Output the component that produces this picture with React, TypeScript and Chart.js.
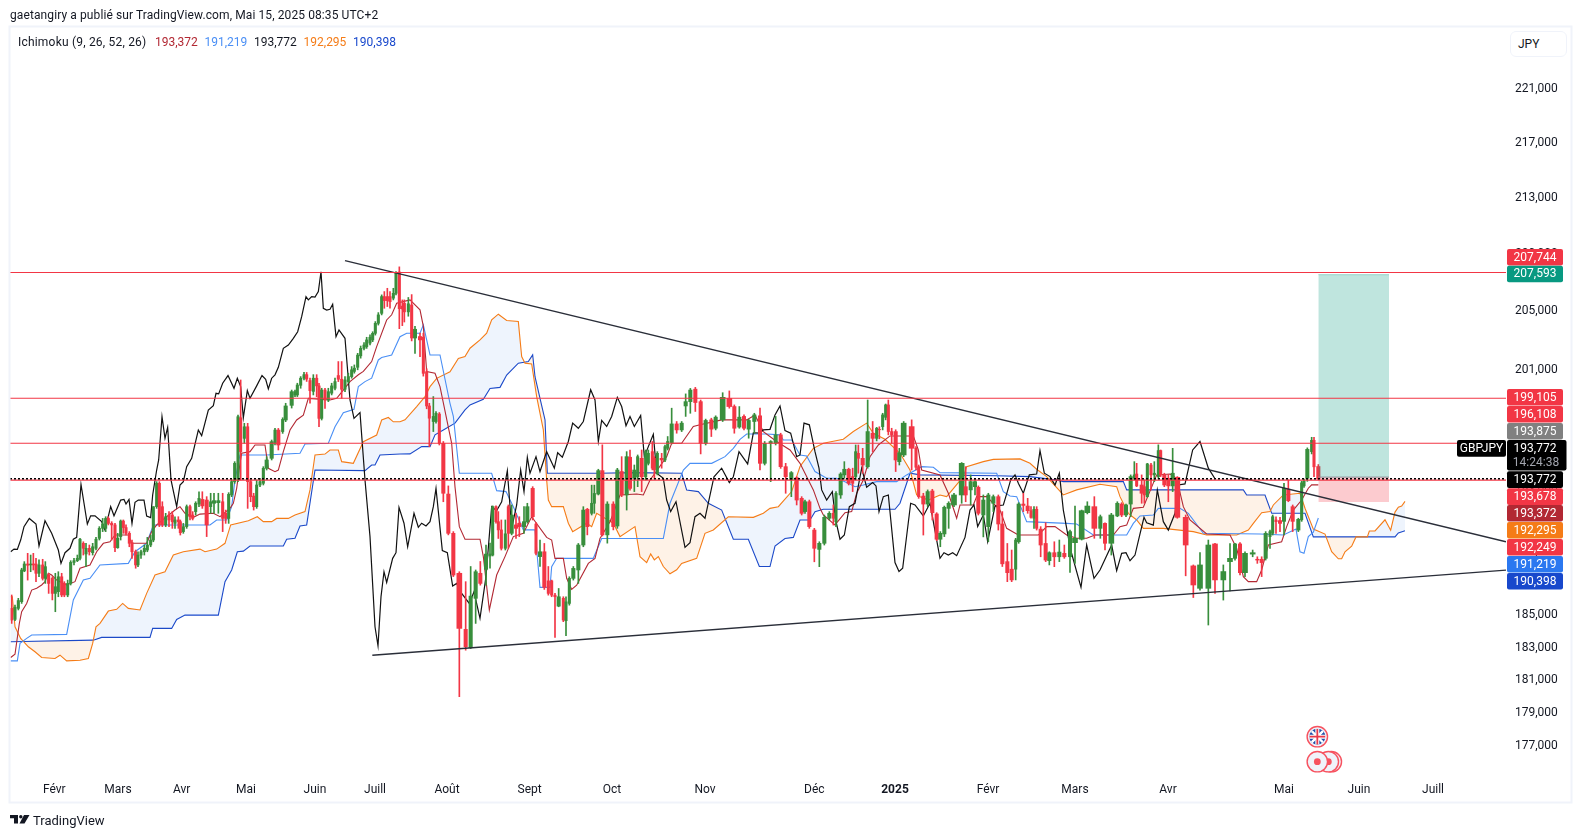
import React, { useEffect, useRef } from "react";
import { Chart, registerables } from "chart.js";

Chart.register(...registerables);

const FONT = "Roboto, 'Noto Sans', sans-serif";

// time positions of the sessions (arbitrary time units along the axis)
const barX = [
35,45,55,65,73,83,92,100,108,117,
128,136,146,157,166,175,185,193,203,212,
222,232,240,250,258,268,278,288,298,308,
317,325,335,345,353,362,370,378,388,396,
407,414,423,433,442,452,460,470,478,487,
497,507,517,525,535,541,550,560,570,578,
587,597,607,620,632,642,655,668,677,686,
695,704,714,722,733,743,752,761,770,780,
790,800,815,825,835,848,857,875,885,892,
902,912,920,930,940,950,957,965,975,985,
995,1005,1015,1025,1035,1045,1055,1063,1073,1082,
1092,1100,1110,1118,1126,1135,1145,1153,1162,1170,
1180,1188,1198,1207,1213,1225,1235,1245,1260,1270,
1280,1288,1300,1308,1318,1330,1345,1360,1378,1397,
1412,1427,1441,1458,1470,1478,1488,1495,1504,1516,
1525,1535,1548,1558,1572,1582,1598,1608,1620,1633,
1645,1655,1665,1676,1690,1698,1708,1720,1735,1750,
1762,1775,1783,1795,1807,1822,1840,1852,1865,1880,
1890,1903,1913,1925,1937,1945,1957,1963,1972,1985,
1995,2003,2015,2030,2045,2057,2071,2086,2102,2117,
2134,2147,2168,2188,2203,2218,2232,2246,2263,2280,
2294,2312,2327,2342,2357,2374,2390,2405,2415,2428,
2443,2458,2473,2488,2500,2508,2522,2533,2546,2558,
2567,2575,2588,2603,2618,2630,2638,2648,2657,2665,
2675,2687,2698,2711,2735,2748,2756,2770,2783,2797,
2810,2821,2833,2846,2862,2885,2897,2912,2925,2935,
2950,2965,2980,2995,3007,3022,3035,3047,3056,3070,
3083,3093,3102,3110,3122,3137,3148,3163,3178,3193,
3210,3225,3245,3262,3283,3301,3315,3334,3352,3365,
3378,3392,3403,3410,3425,3433,3442,3453,3463,3475,
3482,3493,3505,3518,3532,3557,3580,3600,3625,3645,
3670,3690,3705,3720,3735,3758,3772,3785,3797,3810,
3818,3828,3840,3852,3865,3878,3895,3905,3912,3922,
3935,3942,3955,
];

const opens = [
185.47,184.78,185.47,185.89,187.83,188.27,188.21,188.27,188.27,187.68,
188.21,187.36,187.57,187.36,186.41,186.52,187.46,187.04,186.31,187.04,
188.37,188.48,188.63,189.59,188.91,189.27,188.99,189.27,189.91,190.55,
190.55,191.19,190.87,190.77,189.31,190.02,191.02,190.6,190.23,189.63,
189.05,188.21,188.84,189.05,189.16,189.48,189.8,191.95,193.47,191.95,
190.77,191.41,191.41,190.87,191.09,190.98,190.34,190.66,191.95,191.41,
191.63,192.12,192.42,192.38,191.95,192.17,192.21,192.27,191.52,191.19,
192.71,193.58,193.69,197.80,196.43,197.2,193.58,192.64,191.95,193.36,
193.47,194.45,195.11,196.1,196.98,196.88,197.65,198.63,199.33,199.33,
199.98,200.46,200.7,200.3,199.57,200.46,199.94,197.76,199.66,198.99,
199.45,199.78,200.64,200.39,199.71,200.23,200.57,200.92,201.2,201.98,
202.49,202.61,202.85,203.07,203.52,204.21,204.9,206.06,206.06,206.06,
205.95,206.29,207.78,205.4,205.6,205.0,205.48,203.2,203.3,203.25,
200.9,198.59,197.55,197.55,198.05,196.1,192.77,190.23,187.68,184.16,
183.03,186.1,187.68,187.93,188.78,188.84,191.95,190.98,190.45,189.27,
191.95,190.23,190.77,190.88,190.66,190.98,193.14,190.83,188.74,189.05,
187.2,187.2,186.3,185.61,186.1,184.7,185.78,187.36,187.89,189.48,
191.78,191.52,192.17,192.77,194.3,190.13,192.12,190.7,194.24,192.71,
195.18,193.8,193.9,195.11,193.9,194.78,195.55,195.11,194.13,195.11,
195.0,195.77,196.15,197.39,196.99,198.59,198.88,199.72,198.88,196.1,
197.66,197.1,197.66,199.1,198.55,197.18,197.89,197.04,197.55,197.93,
194.78,196.1,196.1,196.66,194.56,193.7,193.84,192.49,191.63,192.27,
190.44,189.2,189.59,191.2,191.52,190.98,192.71,194.02,194.39,193.91,
193.91,195.44,195.11,194.56,196.77,196.43,197.03,197.21,197.83,198.66,
196.88,196.88,194.89,195.33,197.21,195.77,194.56,192.64,192.12,192.97,
191.48,189.85,190.19,191.84,192.06,192.71,193.25,193.04,193.25,193.21,
191.41,190.66,192.17,192.6,190.83,188.42,187.94,187.94,189.69,192.12,
191.99,191.69,191.2,191.78,190.5,189.58,188.48,188.99,188.73,188.95,
188.73,189.63,189.85,191.56,191.95,190.55,190.87,189.59,191.35,192.12,
191.41,192.12,193.8,194.08,193.36,193.25,192.6,194.67,194.02,193.91,
195.62,194.02,193.8,193.3,193.86,191.26,188.15,186.73,186.73,189.55,
187.26,188.42,188.63,189.55,187.72,188.9,188.57,188.57,188.63,190.02,
190.23,191.09,191.05,191.0,193.08,191.95,190.44,191.1,193.3,193.8,
195.55,196.3,194.57,
];

const highs = [
186.31,185.68,186.10,188.0,188.42,188.95,188.84,188.95,188.63,188.53,
188.57,188.42,187.68,187.46,187.68,187.78,187.68,187.15,187.25,188.48,
188.63,188.84,189.91,189.69,189.59,189.48,189.59,189.97,190.66,191.19,
191.3,191.3,190.98,190.87,190.23,191.09,191.09,190.77,190.34,189.8,
189.16,189.05,189.16,189.48,189.97,190.12,191.95,193.58,193.58,192.27,
191.52,191.63,191.63,191.3,191.3,191.09,190.87,192.06,192.06,191.63,
192.27,192.92,192.92,192.6,192.82,192.82,192.82,192.82,191.73,192.86,
193.69,194.89,197.98,200.34,197.43,197.43,193.69,192.82,193.69,193.8,
194.56,195.22,196.32,197.09,197.09,197.8,198.77,199.66,199.66,200.12,
200.57,200.85,200.85,200.46,200.7,200.7,200.12,199.78,199.78,199.78,
200.12,200.46,201.59,201.59,200.57,200.8,201.25,201.36,202.15,202.65,
202.88,203.25,203.41,203.63,204.33,204.95,206.18,206.41,206.64,206.41,
206.64,207.8,208.14,205.83,205.83,206.0,206.2,204.0,203.53,203.53,
201.1,198.77,199.22,198.22,198.15,196.22,193.3,190.34,187.78,187.15,
188.11,187.89,188.43,189.48,189.6,192.0,192.0,191.63,191.09,191.09,
192.06,192.06,191.52,191.3,191.95,192.17,193.25,190.92,189.8,189.58,
188.11,187.25,186.41,186.72,186.2,186.2,187.46,188.11,189.58,191.95,
191.84,193.35,193.35,194.39,196.0,192.27,192.27,194.45,195.22,195.55,
195.66,194.67,195.33,195.66,195.66,195.66,196.22,195.22,195.55,195.44,
195.99,196.55,198.44,197.55,197.55,199.4,199.77,199.84,198.99,197.71,
197.77,197.93,199.48,199.6,198.66,198.55,197.99,197.71,198.1,198.44,
196.22,196.28,197.89,196.77,194.78,194.24,193.9,192.6,192.38,192.38,
190.55,189.69,191.41,191.63,192.06,192.93,194.17,194.89,194.46,194.46,
195.99,195.99,195.77,198.99,197.55,197.16,197.2,198.1,198.72,198.99,
197.1,197.0,195.77,197.55,197.66,195.88,194.67,192.82,193.04,193.08,
191.56,190.34,191.99,192.27,192.82,194.83,194.56,194.02,193.8,193.3,
192.71,192.82,192.71,192.71,191.63,189.58,189.16,189.91,192.21,192.82,
192.49,191.95,191.95,191.95,190.66,190.91,189.05,189.69,189.8,189.48,
190.44,191.99,191.73,192.27,192.6,191.41,190.91,191.52,192.27,192.21,
192.12,194.02,194.89,194.78,194.02,193.69,194.78,194.78,194.89,196.0,
195.66,194.13,194.02,195.77,193.91,191.41,188.21,188.99,189.8,189.59,
188.21,189.58,189.59,189.63,189.05,189.16,188.73,188.73,190.34,190.44,
191.41,191.3,191.26,193.47,193.69,192.06,191.2,193.6,193.75,195.8,
196.5,196.5,194.7,
];

const lows = [
184.53,184.70,185.37,185.78,187.78,187.25,187.78,187.89,187.15,187.46,
187.25,187.04,186.41,186.0,185.26,186.2,186.2,186.2,186.2,186.94,
188.21,188.42,188.53,188.84,188.1,188.84,188.84,189.16,189.8,190.34,
190.34,190.77,189.8,189.05,189.27,189.8,190.23,190.12,189.37,188.63,
188.0,188.1,188.63,188.84,189.05,189.37,189.69,191.84,190.66,190.66,
190.66,190.66,190.55,190.55,190.55,190.12,190.23,190.55,191.09,191.09,
191.41,191.95,191.84,190.02,191.52,191.52,191.52,190.34,190.87,190.87,
192.6,193.47,193.58,193.69,196.1,191.84,192.27,191.73,191.84,193.25,
193.36,194.34,195.0,195.99,195.66,196.76,197.54,198.45,199.22,199.22,
199.78,200.35,200.24,198.77,199.33,199.21,197.2,197.65,198.43,198.88,
199.33,199.66,200.23,199.1,199.55,200.12,200.46,200.8,201.03,201.82,
202.38,202.49,202.72,202.95,203.4,204.09,204.79,205.25,205.37,205.25,
205.83,206.18,203.84,204.05,204.3,204.7,203.0,202.15,201.93,200.6,
198.4,195.88,196.88,197.44,195.99,192.27,190.13,187.47,180.02,182.87,
182.97,184.53,186.93,186.93,188.0,188.78,190.88,189.9,189.16,189.16,
189.27,190.13,189.9,190.02,190.23,190.88,191.09,188.84,188.11,186.66,
186.3,186.2,183.66,185.57,184.64,183.77,185.67,187.25,187.04,189.37,
190.13,191.41,191.52,192.71,190.06,189.6,190.45,190.55,192.6,191.73,
193.03,192.93,193.25,192.93,193.69,194.67,194.35,193.8,194.02,194.46,
194.89,195.66,196.06,196.77,196.88,197.89,198.1,198.22,195.4,195.99,
196.55,196.99,197.55,198.44,196.77,197.1,196.99,196.44,196.77,194.34,
194.67,193.58,195.99,194.45,192.82,192.6,192.06,191.41,191.52,190.55,
188.41,188.1,189.48,191.09,190.76,190.66,192.49,193.8,193.36,192.93,
193.69,194.13,194.13,194.46,195.55,196.26,196.4,196.99,197.66,196.66,
196.1,194.24,194.67,195.22,194.34,194.34,192.49,190.12,191.95,191.09,
189.76,189.37,190.02,190.55,191.95,192.17,192.27,192.06,192.71,191.41,
190.0,189.69,191.63,190.44,188.11,187.15,187.15,187.26,189.59,191.63,
191.52,191.2,190.55,190.44,188.73,188.42,188.21,188.1,188.42,188.63,
187.73,188.31,189.8,191.48,189.91,189.91,189.16,188.84,191.3,191.3,
191.3,191.3,193.69,193.25,192.17,192.17,192.56,193.04,193.58,193.8,
193.91,193.25,192.27,192.93,191.2,187.52,186.15,186.62,184.43,186.41,
185.99,186.57,188.52,187.57,187.47,188.73,188.31,187.47,188.52,189.27,
190.12,190.23,190.34,190.12,192.27,190.34,190.34,191.0,193.2,193.6,
195.4,193.9,193.7,
];

const closes = [
184.74,185.54,185.96,187.89,188.27,188.19,188.27,188.21,187.68,188.21,
187.36,188.1,187.04,186.41,186.83,187.46,186.31,186.31,187.04,188.37,
188.48,188.63,189.85,189.27,189.27,189.05,189.37,189.85,190.55,190.83,
191.19,190.87,190.77,189.31,189.91,191.02,190.6,190.23,189.59,189.05,
188.21,188.84,189.05,189.27,189.48,189.8,191.95,193.47,190.77,190.77,
191.3,191.09,190.98,191.09,190.98,190.27,190.66,191.95,191.3,191.19,
192.17,192.49,192.0,190.77,192.27,192.34,192.34,191.19,191.19,192.75,
193.58,194.78,197.87,195.55,197.2,193.58,192.6,191.95,193.36,193.58,
194.45,195.0,196.21,196.98,195.99,197.69,198.59,199.55,199.55,200.0,
200.46,200.7,200.4,199.62,200.46,199.94,197.76,199.66,198.99,199.55,
199.94,200.23,200.39,199.71,200.34,200.57,201.03,201.14,202.03,202.49,
202.72,203.07,203.25,203.52,204.21,204.79,206.06,205.78,205.78,205.71,
206.29,207.69,205.22,205.2,205.0,205.56,203.2,203.8,203.07,200.79,
198.59,197.77,197.89,198.1,196.1,192.82,190.23,187.57,184.22,183.08,
186.24,187.78,187.04,188.9,188.91,191.95,190.98,190.45,189.27,190.2,
190.23,191.41,190.55,190.66,190.98,191.95,191.3,188.95,189.05,186.79,
186.41,186.3,186.2,186.2,184.74,185.88,187.36,187.99,189.48,191.73,
190.66,192.17,192.81,194.3,190.13,192.12,190.66,194.34,192.71,195.22,
193.14,194.34,195.22,193.9,195.55,195.44,194.46,194.35,195.44,195.0,
195.88,196.22,197.39,196.99,197.44,198.88,199.66,198.82,196.1,197.62,
197.04,197.84,199.17,198.55,197.1,197.84,197.1,197.62,197.99,194.78,
196.1,196.22,196.66,194.56,193.9,194.17,192.38,191.52,192.27,190.66,
189.27,189.59,191.26,191.52,191.2,192.82,194.08,194.39,193.47,193.47,
195.55,195.11,194.67,196.88,196.43,197.1,197.0,197.99,198.66,196.88,
196.66,195.0,195.48,197.44,195.77,194.52,192.6,192.12,192.93,191.56,
189.85,190.23,191.91,192.17,192.71,194.78,192.71,193.58,193.58,191.52,
192.38,192.71,192.6,190.83,188.28,187.72,187.26,189.8,192.12,192.03,
191.69,191.26,191.78,190.55,189.48,188.52,188.99,188.73,189.03,188.73,
190.34,189.91,191.69,191.99,190.55,191.3,189.59,191.41,192.17,191.41,
192.06,193.91,194.02,193.3,192.82,192.71,194.74,194.02,194.13,195.62,
194.02,193.36,193.3,194.13,191.26,189.48,186.94,188.21,189.48,187.26,
187.79,188.63,189.55,187.72,188.95,188.99,188.52,188.36,190.23,190.34,
191.3,190.98,190.87,193.14,192.34,191.0,191.13,193.5,193.6,195.7,
196.3,194.55,193.77,
];

const chikouX = [32,42,52,62,72,88,108,117,135,155,175,183,195,210,220,230,243,262,272,285,305,315,332,342,362,372,378,387,396,405,415,432,440,452,458,470,476,486,495,503,513,530,540,550,560,575,595,605,625,640,648,656,668,684,702,712,722,730,742,750,770,786,797,805,815,825,835,850,865,880,893,905,918,925,935,945,955,963,970,980,990,998,1008,1017,1035,1050,1062,1080,1095,1110,1125,1134,1143,1152,1160,1178,1188,1197,
1212,1223,1242,1255,1265,1278,1290,1300,1308,1327,1342,1358,1370,1385,1408,1422,1440,1458,1475,1490,1505,1522,1535,1550,1562,1572,1582,1590,1608,1620,1640,1663,1673,1687,1705,1718,1735,1750,1772,1785,1795,1805,1820,1835,1852,1865,1878,1890,1903,1922,1933,1945,1960,1970,1990,2000,2012,2028,2055,2070,2085,2100,2115,2142,2165,2188,2200,2217,2243,2260,2280,2290,2310,2325,2340,2355,2372,2390,
2400,2412,2428,2445,2457,2465,2480,2497,2507,2520,2533,2548,2565,2585,2600,2618,2628,2637,2650,2665,2685,2697,2708,2732,2745,2770,2790,2820,2832,2845,2858,2870,2895,2910,2922,2933,2950,2963,2985,3010,3022,3032,3045,3055,3070,3088,3110,3120,3133,3150,3165,3178,3190,3212,3243,3260,3282,3300,3335,3350,3365,3378,3390,3405,3420,3432,3440,3460,3472,3490,3505,3525,3535,3555,3578,3600,3625,3645];
const chikouY = [189.05,189.22,189.20,189.80,190.66,191.19,190.83,189.42,191.04,190.23,189.16,188.31,188.99,189.27,189.85,189.97,193.40,190.83,191.36,191.36,190.98,190.44,191.95,191.36,192.38,192.42,192.12,192.42,190.87,192.23,192.38,192.38,191.34,191.24,192.71,194.34,195.00,197.87,196.43,197.16,193.69,191.95,193.36,193.58,194.56,195.11,196.98,196.61,198.32,198.61,199.44,199.40,200.12,200.64,199.78,200.46,199.89,197.80,199.62,199.10,199.94,200.64,200.39,199.74,200.46,200.69,201.2,202.49,202.72,203.18,203.63,204.67,206.06,205.83,206.06,206.02,206.41,207.8,205.25,205.13,205.18,205.53,203.29,203.75,203.18,198.99,197.76,198.14,193.69,190.02,184.32,183.14,186.20,187.78,187.10,188.63,188.99,191.90,
190.88,189.37,191.52,190.62,190.88,190.70,190.98,191.95,193.14,189.12,188.99,186.87,187.04,186.41,185.78,186.51,184.85,187.47,191.95,191.69,192.27,194.30,190.55,192.06,194.34,192.93,195.18,194.13,195.22,194.24,195.55,194.46,195.48,195.18,196.22,197.44,197.10,197.55,199.68,198.99,196.22,197.62,197.22,197.89,199.17,198.55,197.27,197.89,197.22,197.95,195.22,195.88,196.70,194.13,193.80,192.38,191.63,192.27,189.33,189.63,191.30,191.52,191.20,193.90,194.46,193.52,193.90,195.55,194.74,196.80,196.77,196.99,197.03,197.99,198.59,196.95,196.77,195.22,
195.33,197.44,197.33,195.55,194.46,193.04,192.38,192.93,191.09,189.85,190.12,191.95,192.17,194.46,193.21,193.52,193.30,191.63,192.60,192.71,188.36,187.79,188.0,192.17,192.06,191.35,192.17,188.63,188.99,188.84,188.99,188.80,189.97,191.73,192.06,190.66,191.41,189.69,191.99,192.06,192.93,193.69,194.02,193.47,192.82,194.02,194.08,195.62,194.13,193.91,193.36,194.13,191.73,189.16,186.79,189.48,187.36,187.89,189.48,187.85,188.95,188.99,188.48,188.84,190.19,191.26,190.91,190.76,193.04,190.98,190.44,191.52,193.36,193.43,195.66,196.22,194.46,193.77];

const tenkanX = [32,45,58,65,80,95,110,125,135,145,155,170,200,225,240,270,290,310,330,345,385,395,440,455,470,525,540,555,580,600,640,660,690,700,710,720,725,750,765,795,805,825,835,850,870,890,910,925,990,1010,1030,1050,1075,1090,1115,1130,1160,1175,1190,
1230,1260,1270,1280,1305,1320,1355,1365,1378,1395,1440,1450,1468,1490,1515,1540,1570,1595,1640,1655,1665,1690,1700,1715,1730,1765,1785,1800,1830,1840,1860,1910,1930,1950,1965,2000,2015,2045,2080,2100,2165,2240,2265,2290,2330,2370,2400,
2440,2460,2470,2505,2535,2555,2570,2590,2610,2635,2670,2740,2755,2765,2820,2845,2870,2880,2920,2930,2960,3000,3020,3055,3115,3140,3165,3200,3230,3260,3285,3340,3360,3380,3400,3430,3470,3510,3530,3550,3570,3620,3690,3710,3730,3745,3770,3785,3805,3845,3860,3880,3905,3925,3935,3955];
const tenkanY = [182.42,182.62,184.53,185.26,185.78,186.62,186.73,186.94,187.15,187.68,187.57,187.25,186.94,187.15,188.0,188.21,189.05,189.59,189.69,190.12,190.12,189.59,189.59,190.34,190.77,191.73,191.95,191.52,191.26,191.47,191.52,191.30,191.84,192.17,193.14,194.78,195.44,195.55,195.99,195.99,194.45,194.23,194.34,195.55,196.98,197.65,197.98,199.1,198.99,199.1,199.66,200.23,200.69,200.92,201.59,202.61,204.44,204.8,205.6,
205.83,205.14,204.0,200.91,200.79,199.89,196.1,193.24,190.66,189.85,189.85,188.74,185.37,187.57,188.74,190.02,190.23,191.30,189.97,189.8,188.63,188.63,187.36,186.66,186.93,188.31,188.63,189.90,190.98,191.52,192.71,192.77,192.71,193.69,194.13,195.22,196.10,196.10,197.22,197.33,197.66,197.66,197.99,196.88,196.22,195.66,194.78,
193.04,191.84,191.41,190.77,191.56,191.63,192.82,193.69,195.22,195.99,196.59,196.59,195.66,194.34,194.02,192.82,191.2,192.06,192.06,192.60,192.60,191.73,190.55,190.12,190.12,190.66,190.66,190.12,189.91,189.91,190.12,190.12,190.66,190.76,191.84,191.91,194.02,194.08,193.8,191.95,191.09,190.19,190.12,189.27,187.47,187.15,187.15,187.89,189.48,189.69,190.66,191.73,192.38,193.15,193.37,193.37];

const kijunX = [32,52,60,80,95,200,220,250,270,300,385,405,440,460,630,650,680,695,705,720,800,900,915,985,1005,1030,1062,1075,1095,1115,1135,1145,1175,1200,
1220,1260,1270,1290,1320,1350,1360,1378,1475,1490,1518,1540,1570,1605,1620,1650,1655,1670,1780,1805,1990,2010,2050,2070,2135,2175,2200,2220,2240,2300,2340,2350,2375,2400,
2420,2445,2480,2510,2545,2565,2590,2630,2690,2720,2765,2800,2820,2990,3010,3030,3050,3080,3200,3230,3280,3380,3400,3420,3460,3475,3540,3565,3610,3780,3850,3888,3900,3912,3925,3940,3955];
const kijunY = [182.21,182.21,183.29,183.6,183.81,183.85,186.0,187.25,187.36,188.21,188.31,189.05,189.59,190.77,190.77,191.09,191.09,191.95,193.69,195.33,195.33,195.44,196.06,196.10,197.2,198.14,198.36,199.89,200.23,200.46,201.7,201.87,202.03,203.29,
203.53,203.53,204.1,202.04,202.04,198.77,197.89,194.13,194.13,192.99,192.93,191.95,190.45,190.45,186.79,186.79,188.1,188.63,188.63,189.9,189.9,192.17,194.34,194.78,194.78,195.22,195.77,196.36,196.72,196.72,196.66,196.32,196.32,195.33,
195.27,194.24,193.8,193.8,193.47,193.25,193.36,193.58,193.58,194.02,194.56,194.52,194.17,194.13,192.93,192.64,192.60,190.98,190.87,190.83,190.12,190.12,190.87,191.35,191.41,191.84,191.84,191.52,190.23,190.19,190.12,190.5,189.05,188.95,190.02,190.3,191.22];

const spanAX = [32,37,45,62,85,105,125,165,180,200,240,265,278,288,300,325,350,368,385,420,440,465,495,520,550,600,615,650,675,692,745,772,790,815,830,865,885,915,930,945,975,990,1015,1025,1060,1090,1130,1145,1165,1180,1200,
1215,1250,1275,1290,1310,1350,1375,1395,1410,1440,1460,1475,1495,1520,1555,1565,1575,1595,1610,1630,1640,1645,1655,1690,1705,1718,1760,1775,1790,1840,1860,1905,1920,1940,1952,1963,1975,1990,2010,2030,2045,2090,2115,2140,2185,2260,2290,2310,2335,2375,2400,
2440,2470,2530,2560,2600,2620,2655,2700,2730,2750,2760,2785,2820,2840,2865,2890,2900,2950,2980,3060,3090,3110,3140,3190,3230,3300,3350,3360,3385,3410,3430,3490,3580,3620,3710,3745,3760,3785,3810,3820,3850,3900,
3915,3940,3975,3995,4015,4025,4035,4055,4068,4102,4108,4125,4155,4172,4185,4195,4205,4215];
const spanAY = [186.2,186.2,184.32,183.6,183.08,182.77,182.42,182.36,182.56,182.21,182.25,182.36,183.29,184.32,184.53,185.3,185.41,185.78,185.47,185.37,186.41,187.57,187.78,188.84,189.05,189.22,189.05,189.22,189.59,190.77,191.04,191.30,190.98,190.98,191.19,191.19,191.41,191.63,193.04,195.33,195.39,195.66,195.66,194.89,194.78,196.21,196.65,197.65,197.82,197.53,197.53,
197.66,198.55,199.22,199.89,200.45,200.9,201.8,201.93,202.5,203.07,203.53,204.45,204.84,204.4,204.33,201.93,201.48,201.43,199.22,196.99,193.69,192.38,191.95,191.95,190.88,190.34,190.88,190.66,191.52,190.88,190.02,190.66,188.74,188.36,188.91,188.53,188.74,188.11,187.65,187.9,188.31,188.63,190.23,190.45,191.3,191.26,191.52,191.84,191.95,192.93,194.57,
195.77,196.1,196.37,196.88,197.44,196.77,196.37,195.44,194.34,192.71,192.6,192.38,192.71,192.6,193.25,193.91,194.56,194.89,195.04,195.07,194.78,194.39,193.91,192.71,193.04,193.41,193.25,192.6,191.52,191.09,190.55,190.55,190.34,190.12,190.12,190.44,190.87,191.56,191.63,192.06,192.71,192.82,
191.85,190.5,190.18,189.05,188.6,188.6,189.05,189.4,190.0,190.0,190.38,190.38,191.1,190.43,191.6,191.92,191.99,192.295];

const spanBX = [32,280,305,450,458,515,530,555,655,675,695,712,730,750,850,860,885,900,920,945,1095,1115,1125,1140,1200,
1230,1265,1290,1305,1330,1365,1395,1410,1450,1470,1500,1520,1555,1585,1598,1605,1620,1635,1642,1800,1900,2045,2060,2095,2125,2165,2200,2245,2278,2310,2325,2355,2380,2400,
2430,2445,2470,2685,2700,2730,2760,2990,3090,3170,3190,3370,3380,3730,3740,3795,3815,3915,3940,4185,4195,4215];
const spanBY = [183.39,183.49,183.66,183.66,184.22,184.22,184.78,185.05,185.05,187.15,187.89,189.05,189.09,189.42,189.42,189.85,189.91,190.7,190.77,194.34,194.3,194.67,194.67,195.33,195.39,
195.4,195.88,195.88,196.66,196.99,197.44,198.33,198.66,199.04,199.77,199.84,200.67,201.48,201.59,202.04,200.56,199.1,197.66,194.13,194.13,194.17,194.13,193.03,192.93,192.17,191.73,189.85,189.85,188.11,188.11,189.41,189.9,189.97,191.09,
191.09,191.63,191.78,191.78,192.17,194.13,194.02,193.96,193.91,193.69,193.58,193.58,193.04,193.04,192.71,192.71,191.52,191.52,190.0,190.0,190.25,190.398];

const monthX = [163,354,545,738,945,1125,1341,1589,1836,2115,2443,2685,2964,3225,3504,3852,4077,4299];
const monthLabels = ["Févr","Mars","Avr","Mai","Juin","Juill","Août","Sept","Oct","Nov","Déc","2025","Févr","Mars","Avr","Mai","Juin","Juill"];
const priceTicks = [221,217,213,209,205,201,197,193,189,187,185,183,181,179,177];

const timeMin = 30;
const timeMax = 4518;
const priceMin = 175.5;
const priceMax = 225.7;

const levelPrices = [207.744, 199.105, 196.108, 193.678];
const lastPrice = 193.772;
const upperTrendX = [1035, 4518];
const upperTrendY = [208.58, 189.69];
const lowerTrendX = [1117, 4518];
const lowerTrendY = [182.56, 187.88];
const positionX = [3955, 4167];
const targetPrice = 207.593;
const entryPrice = 193.875;
const stopPrice = 192.249;
const eventX = 3952;

const tagPrices = [207.744, 207.593, 199.105, 196.108, 193.875, 193.772, 193.678, 193.372, 192.295, 192.249, 191.219, 190.398];
const tagColors = ["#f23645","#089981","#f23645","#f23645","#808080","#000000","#f23645","#b22833","#f57c17","#f23645","#2b78f0","#1848cc"];
const countdownText = "14:24:38";
const symbolText = "GBPJPY";

const legendName = "Ichimoku (9, 26, 52, 26)";
const legendValues = ["193,372", "191,219", "193,772", "192,295", "190,398"];
const legendColors = ["#b22833", "#4a8ff5", "#131722", "#f57c17", "#1848cc"];

const fmt = (v: number) => v.toFixed(3).replace(".", ",");
const pts = (xs: number[], ys: number[]) => xs.map((x, i) => ({ x, y: ys[i] }));

const UP = "#388e3c";
const DOWN = "#f23645";

function bodyWidth(i: number) {
  const prev = i > 0 ? barX[i] - barX[i - 1] : 10;
  const next = i < barX.length - 1 ? barX[i + 1] - barX[i] : 10;
  const gap = (prev + next) / 2;
  return gap <= 11 ? 0 : gap <= 17 ? 1 : 2;
}

const tagTops = [249, 265.7, 389, 406, 423, 471.3, 488.3, 505, 522, 539, 556, 573];

const overlay = {
  id: "overlay",
  afterDraw(chart: any) {
    const ctx = chart.ctx;
    const sx = chart.scales.x;
    ctx.save();
    // frame
    ctx.strokeStyle = "#f0f3fa";
    ctx.lineWidth = 2;
    ctx.strokeRect(9.5, 26.5, 1562, 776);

    ctx.textAlign = "center";
    ctx.textBaseline = "middle";
    ctx.font = `12px ${FONT}`;
    tagPrices.forEach((p, i) => {
      const top = tagTops[i];
      ctx.fillStyle = tagColors[i];
      ctx.beginPath();
      ctx.roundRect(1507, top, 56, 16.6, 2);
      ctx.fill();
      ctx.fillStyle = "#ffffff";
      ctx.fillText(fmt(p), 1535, top + 8.6);
    });
    // symbol + last price + countdown
    ctx.fillStyle = "#000000";
    ctx.beginPath();
    ctx.roundRect(1507, 440, 59.5, 30.6, 2);
    ctx.fill();
    ctx.beginPath();
    ctx.roundRect(1457, 440, 49, 16.7, 2);
    ctx.fill();
    ctx.fillStyle = "#ffffff";
    ctx.fillText(symbolText, 1481.5, 448.6);
    ctx.fillText(fmt(lastPrice), 1535, 448.6);
    ctx.fillStyle = "#a3a6af";
    ctx.fillText(countdownText, 1536, 462.5);

    // event markers
    const ex = sx.getPixelForValue(eventX);
    const ring = (x: number, y: number) => {
      ctx.beginPath();
      ctx.arc(x, y, 10.2, 0, Math.PI * 2);
      ctx.fillStyle = "#f0f3fa";
      ctx.fill();
      ctx.lineWidth = 1.4;
      ctx.strokeStyle = "#f7525f";
      ctx.stroke();
    };
    const rowY = 761.7;
    [14, 11, 0].forEach((dx) => {
      ring(ex + dx, rowY);
      ctx.beginPath();
      ctx.arc(ex + dx, rowY, 3.4, 0, Math.PI * 2);
      ctx.fillStyle = "#f7525f";
      ctx.fill();
    });
    const fy = 736.7;
    ring(ex, fy);
    ctx.save();
    ctx.beginPath();
    ctx.arc(ex, fy, 8, 0, Math.PI * 2);
    ctx.clip();
    ctx.fillStyle = "#1f4fa8";
    ctx.fillRect(ex - 8, fy - 8, 16, 16);
    ctx.strokeStyle = "#ffffff";
    ctx.lineWidth = 2.4;
    ctx.beginPath();
    ctx.moveTo(ex - 8, fy - 8);
    ctx.lineTo(ex + 8, fy + 8);
    ctx.moveTo(ex + 8, fy - 8);
    ctx.lineTo(ex - 8, fy + 8);
    ctx.stroke();
    ctx.lineWidth = 4;
    ctx.beginPath();
    ctx.moveTo(ex - 8, fy);
    ctx.lineTo(ex + 8, fy);
    ctx.moveTo(ex, fy - 8);
    ctx.lineTo(ex, fy + 8);
    ctx.stroke();
    ctx.strokeStyle = "#e8394a";
    ctx.lineWidth = 1.8;
    ctx.beginPath();
    ctx.moveTo(ex - 8, fy);
    ctx.lineTo(ex + 8, fy);
    ctx.moveTo(ex, fy - 8);
    ctx.lineTo(ex, fy + 8);
    ctx.stroke();
    ctx.restore();
    ctx.restore();
  },
};

export default function App() {
  const ref = useRef<HTMLCanvasElement | null>(null);

  useEffect(() => {
    if (!ref.current) return;
    const bars = barX.map((x, i) => ({ x, o: opens[i], h: highs[i], l: lows[i], c: closes[i], w: bodyWidth(i) }));
    const color = (b: any) => (b.c >= b.o ? UP : DOWN);
    const bodyDs = (w: number, thick: number) => {
      const sel = bars.filter((b) => b.w === w);
      return {
        type: "bar",
        data: sel.map((b) => ({ x: b.x, y: [b.o, b.c] })),
        backgroundColor: sel.map(color),
        barThickness: thick,
        borderWidth: 0,
        grouped: false,
        order: 5,
      };
    };
    const line = (xs: number[], ys: number[], col: string, order: number, width = 1.1, extra: any = {}) => ({
      type: "line",
      data: pts(xs, ys),
      borderColor: col,
      borderWidth: width,
      pointRadius: 0,
      tension: 0,
      fill: false,
      order,
      ...extra,
    });

    const datasets: any[] = [
      // 0: leading span B, 1: leading span A with the cloud
      line(spanBX, spanBY, "#1848cc", 20),
      line(spanAX, spanAY, "#f57c17", 19, 1.1, {
        fill: { target: 0, above: "rgba(33,120,230,0.08)", below: "rgba(245,124,23,0.10)" },
      }),
      line(kijunX, kijunY, "#4a8ff5", 18),
      line(tenkanX, tenkanY, "#b22833", 17),
      line(chikouX, chikouY, "#111111", 16, 1.2),
      {
        type: "bar",
        data: bars.map((b) => ({ x: b.x, y: [b.l, b.h] })),
        backgroundColor: bars.map(color),
        barThickness: 1,
        borderWidth: 0,
        grouped: false,
        order: 6,
      },
      bodyDs(0, 2.4),
      bodyDs(1, 3.4),
      bodyDs(2, 5),
      line(positionX, [targetPrice, targetPrice], "rgba(8,153,129,0.35)", 4, 1, {
        fill: { value: entryPrice },
        backgroundColor: "rgba(8,153,129,0.26)",
      }),
      line(positionX, [stopPrice, stopPrice], "rgba(242,54,69,0.0)", 4, 1, {
        fill: { value: entryPrice },
        backgroundColor: "rgba(242,54,69,0.26)",
      }),
      line(positionX, [entryPrice, entryPrice], "#8a8d96", 3, 1),
      line(upperTrendX, upperTrendY, "#2a2e39", 2, 1.4),
      line(lowerTrendX, lowerTrendY, "#2a2e39", 2, 1.4),
      ...levelPrices.map((p) => line([timeMin, timeMax], [p, p], "#f23645", 1, 1.1)),
      line([timeMin, timeMax], [lastPrice, lastPrice], "#000000", 0, 1.4, { borderDash: [2, 2] }),
    ];

    const chart = new Chart(ref.current, {
      type: "bar",
      data: { datasets },
      plugins: [overlay],
      options: {
        animation: false,
        responsive: false,
        devicePixelRatio: 1,
        layout: { padding: { left: 10, top: 27, right: 11, bottom: 36 } },
        plugins: { legend: { display: false }, tooltip: { enabled: false }, title: { display: false } },
        scales: {
          x: {
            type: "linear",
            offset: false,
            min: timeMin,
            max: timeMax,
            grid: { display: false, drawTicks: false, offset: false },
            border: { display: false },
            afterBuildTicks: (s: any) => {
              s.ticks = monthX.map((value) => ({ value }));
            },
            afterFit: (s: any) => {
              s.height = 30;
            },
            ticks: {
              autoSkip: false,
              maxRotation: 0,
              padding: 11,
              color: "#131722",
              font: (c: any) => ({
                family: FONT,
                size: 12,
                weight: c.tick && monthLabels[monthX.indexOf(c.tick.value)] === "2025" ? "bold" : "normal",
              }),
              callback: (v: any) => monthLabels[monthX.indexOf(v)] ?? "",
            },
          },
          y: {
            type: "logarithmic",
            position: "right",
            min: priceMin,
            max: priceMax,
            grid: { display: false, drawTicks: false },
            border: { display: false },
            afterBuildTicks: (s: any) => {
              s.ticks = priceTicks.map((value) => ({ value }));
            },
            afterFit: (s: any) => {
              s.width = 65;
            },
            ticks: {
              autoSkip: false,
              padding: 9,
              labelOffset: -0.5,
              color: "#131722",
              font: { family: FONT, size: 12 },
              callback: (v: any) => fmt(Number(v)),
            },
          },
        },
      },
    } as any);
    return () => chart.destroy();
  }, []);

  const abs = (left: number, top: number): React.CSSProperties => ({
    position: "absolute",
    left,
    top,
    font: `12px ${FONT}`,
    color: "#131722",
    whiteSpace: "nowrap",
    lineHeight: "16px",
  });

  return (
    <div style={{ position: "fixed", left: 0, top: 0, width: 1582, height: 838, background: "#fff", overflow: "hidden" }}>
      <canvas ref={ref} width={1582} height={838} style={{ display: "block", width: 1582, height: 838 }} />
      <div style={{ ...abs(10, 7), letterSpacing: 0.1 }}>gaetangiry a publié sur TradingView.com, Mai 15, 2025 08:35 UTC+2</div>
      <div style={{ ...abs(18, 34), display: "flex", gap: 6.7 }}>
        <span style={{ width: 130.3, letterSpacing: 0.2 }}>{legendName}</span>
        {legendValues.map((v, i) => (
          <span key={i} style={{ color: legendColors[i] }}>
            {v}
          </span>
        ))}
      </div>
      <div
        style={{
          ...abs(1510, 31),
          width: 57,
          height: 26,
          boxSizing: "border-box",
          border: "1px solid #f0f3fa",
          borderRadius: 6,
          paddingLeft: 7,
          lineHeight: "24px",
          background: "#fff",
        }}
      >
        JPY
      </div>
      <svg style={{ position: "absolute", left: 10, top: 815 }} width={20} height={9} viewBox="0 0 20 9">
        <path d="M0 0H8V8.4H4V3.2H0Z M14 0H19.5L14.5 8.4H9.5Z" fill="#131722" />
        <circle cx="10.8" cy="1.7" r="1.7" fill="#131722" />
      </svg>
      <div style={{ ...abs(33, 812), fontSize: 13, lineHeight: "18px" }}>TradingView</div>
    </div>
  );
}
